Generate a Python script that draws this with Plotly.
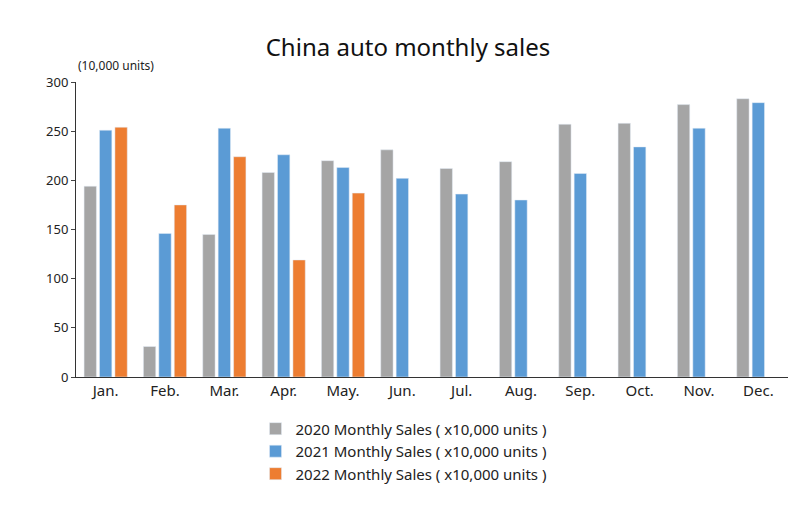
import plotly.graph_objects as go

months = ["Jan.", "Feb.", "Mar.", "Apr.", "May.", "Jun.", "Jul.", "Aug.", "Sep.", "Oct.", "Nov.", "Dec."]
sales_2020 = [194, 31, 145, 208, 220, 231, 212, 219, 257, 258, 277, 283]
sales_2021 = [251, 146, 253, 226, 213, 202, 186, 180, 207, 234, 253, 279]
sales_2022 = [254, 175, 224, 119, 187, None, None, None, None, None, None, None]
names = ["2020 Monthly Sales ( x10,000 units )", "2021 Monthly Sales ( x10,000 units )", "2022 Monthly Sales ( x10,000 units )"]
colors = ["#A5A5A5", "#5B9BD5", "#ED7D31"]

fig = go.Figure()
for n, v, c in zip(names, [sales_2020, sales_2021, sales_2022], colors):
    fig.add_trace(go.Bar(x=months, y=v, name=n, marker_color=c))

fig.update_layout(
    width=800, height=522, plot_bgcolor="white", paper_bgcolor="white",
    font=dict(family="Noto Sans, Arial", color="#222"),
    title=dict(text="China auto monthly sales", x=0.5, xanchor="center", y=0.925, yanchor="middle",
               font=dict(size=24, color="#111")),
    barmode="group", bargap=0.22, bargroupgap=0.2,
    margin=dict(l=68, r=20, t=74, b=153),
    legend=dict(orientation="v", x=0.46, xanchor="center", y=-0.12, yanchor="top", font=dict(size=15), itemwidth=30,
                tracegroupgap=4),
    annotations=[dict(text="(10,000 units)", xref="paper", yref="paper", x=0, y=1.02, xanchor="left", yanchor="bottom",
                      showarrow=False, font=dict(size=12))],
)
fig.update_yaxes(range=[0, 300], dtick=50, showgrid=False, showline=True, linecolor="#333", ticks="outside",
                 ticklen=4, tickfont=dict(size=13))
fig.update_xaxes(showline=True, linecolor="#333", tickfont=dict(size=15))
fig.write_html("out.html")
